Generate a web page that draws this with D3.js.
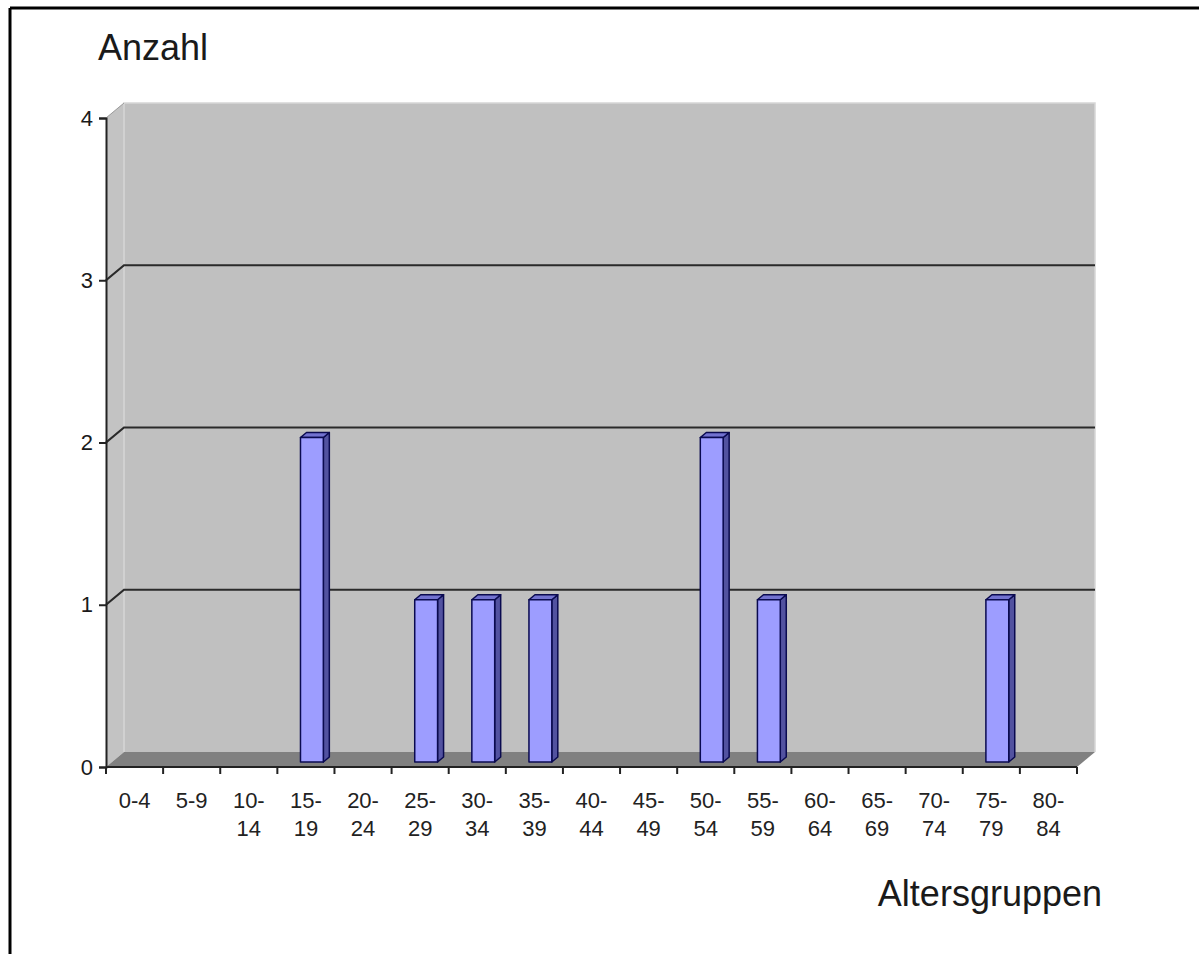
<!DOCTYPE html>
<html>
<head>
<meta charset="utf-8">
<script src="https://cdn.jsdelivr.net/npm/d3@7"></script>
<style>
  html, body { margin: 0; padding: 0; background: #ffffff; }
  svg { display: block; }
  text { font-family: "Liberation Sans", Arial, sans-serif; fill: #1a1a1a; }
</style>
</head>
<body>
<svg id="chart" width="1199" height="954"></svg>
<script>
// Age groups and number of cases per group
const categories = ["0-4", "5-9", "10-14", "15-19", "20-24", "25-29", "30-34", "35-39",
                    "40-44", "45-49", "50-54", "55-59", "60-64", "65-69", "70-74", "75-79", "80-84"];
const counts = [0, 0, 0, 2, 0, 1, 1, 1, 0, 0, 2, 1, 0, 0, 0, 1, 0];
const yTicks = [0, 1, 2, 3, 4];
const yAxisTitle = "Anzahl";
const xAxisTitle = "Altersgruppen";

(function draw() {
  const svg = d3.select("#chart");
  const W = 1199, H = 954;

  // Front plane of the 3D box
  const plotL = 106, plotR = 1077, plotB = 767, plotT = 118;
  // Depth offset of the back wall
  const depthX = 18, depthY = -15;
  // Columns sit in the middle third of the depth
  const z0 = 1 / 3, z1 = 2 / 3;

  const x = d3.scaleBand().domain(categories).range([plotL, plotR])
    .paddingInner(0.6).paddingOuter(0.3);
  const y = d3.scaleLinear().domain([0, 4]).range([plotB, plotT]);

  // Oblique projection: (x, y, depth 0..1) -> screen
  const P = (px, py, z) => [px + z * depthX, py + z * depthY];
  const poly = pts => pts.map(p => p.join(",")).join(" ");

  // Frame
  svg.append("line").attr("x1", 10).attr("y1", 8).attr("x2", W).attr("y2", 8)
    .attr("stroke", "#000").attr("stroke-width", 3);
  svg.append("line").attr("x1", 10).attr("y1", 8).attr("x2", 10).attr("y2", H)
    .attr("stroke", "#000").attr("stroke-width", 3);

  const box = svg.append("g");

  // Back wall
  box.append("polygon")
    .attr("points", poly([P(plotL, plotT, 1), P(plotR, plotT, 1), P(plotR, plotB, 1), P(plotL, plotB, 1)]))
    .attr("fill", "#c0c0c0");
  // Side wall
  box.append("polygon")
    .attr("points", poly([P(plotL, plotT, 0), P(plotL, plotT, 1), P(plotL, plotB, 1), P(plotL, plotB, 0)]))
    .attr("fill", "#c3c3c3");
  // Floor
  box.append("polygon")
    .attr("points", poly([P(plotL, plotB, 0), P(plotL, plotB, 1), P(plotR, plotB, 1), P(plotR, plotB, 0)]))
    .attr("fill", "#808080");

  // Light edges of the walls
  box.append("polyline")
    .attr("points", poly([P(plotL, plotB, 1), P(plotL, plotT, 1), P(plotR, plotT, 1), P(plotR, plotB, 1)]))
    .attr("fill", "none").attr("stroke", "#d6d6d6").attr("stroke-width", 1.5);
  box.append("line")
    .attr("x1", P(plotL, plotT, 0)[0]).attr("y1", P(plotL, plotT, 0)[1])
    .attr("x2", P(plotL, plotT, 1)[0]).attr("y2", P(plotL, plotT, 1)[1])
    .attr("stroke", "#9a9a9a").attr("stroke-width", 1);

  // Gridlines across side wall and back wall
  box.selectAll(".grid").data(yTicks.filter(t => t > 0 && t < 4)).join("polyline")
    .attr("class", "grid")
    .attr("points", t => poly([P(plotL, y(t), 0), P(plotL, y(t), 1), P(plotR, y(t), 1)]))
    .attr("fill", "none").attr("stroke", "#2a2a2a").attr("stroke-width", 2.2);

  // Columns
  const bars = box.selectAll(".bar")
    .data(categories.map((c, i) => ({ c, v: counts[i] })).filter(d => d.v > 0))
    .join("g").attr("class", "bar");
  function styleFace(sel, fill) {
    sel.attr("fill", fill).attr("stroke", "#0a0a50").attr("stroke-width", 1.5)
      .attr("stroke-linejoin", "round");
  }
  bars.append("polygon")
    .attr("points", d => {
      const bx = x(d.c) + x.bandwidth(), yv = y(d.v);
      return poly([P(bx, yv, z0), P(bx, yv, z1), P(bx, plotB, z1), P(bx, plotB, z0)]);
    })
    .call(styleFace, "#5252a0");
  bars.append("polygon")
    .attr("points", d => {
      const bx = x(d.c), bw = x.bandwidth(), yv = y(d.v);
      return poly([P(bx, yv, z0), P(bx, yv, z1), P(bx + bw, yv, z1), P(bx + bw, yv, z0)]);
    })
    .call(styleFace, "#7272d0");
  bars.append("polygon")
    .attr("points", d => {
      const bx = x(d.c), bw = x.bandwidth(), yv = y(d.v);
      return poly([P(bx, yv, z0), P(bx + bw, yv, z0), P(bx + bw, plotB, z0), P(bx, plotB, z0)]);
    })
    .call(styleFace, "#9d9dff");

  // Y axis
  const yAxis = svg.append("g").attr("transform", `translate(${plotL},0)`)
    .call(d3.axisLeft(y).tickValues(yTicks).tickSize(7).tickPadding(6).tickFormat(d3.format("d")));
  yAxis.select(".domain").attr("stroke", "#222").attr("stroke-width", 2);
  yAxis.selectAll(".tick line").attr("stroke", "#222").attr("stroke-width", 2);
  yAxis.selectAll(".tick text").attr("font-size", 22)
    .attr("font-family", "Liberation Sans, Arial, sans-serif").attr("fill", "#222");

  // X axis: baseline and ticks at group boundaries
  const xg = svg.append("g");
  xg.append("line").attr("x1", plotL).attr("x2", plotR).attr("y1", plotB).attr("y2", plotB)
    .attr("stroke", "#222").attr("stroke-width", 2);
  const bounds = categories.map(c => x(c) - x.step() * x.paddingOuter()).concat([plotR]);
  xg.selectAll(".xt").data(bounds).join("line").attr("class", "xt")
    .attr("x1", d => d).attr("x2", d => d).attr("y1", plotB).attr("y2", plotB + 7)
    .attr("stroke", "#222").attr("stroke-width", 2);

  // Category labels, wrapped after the hyphen
  const labels = xg.selectAll(".xl").data(categories).join("text").attr("class", "xl")
    .attr("text-anchor", "middle").attr("font-size", 22).style("fill", "#222")
    .attr("transform", c => `translate(${x(c) + x.bandwidth() / 2},0)`);
  labels.each(function (c) {
    const parts = c.split("-");
    const lines = (parts[0].length + parts[1].length > 2) ? [parts[0] + "-", parts[1]] : [c];
    d3.select(this).selectAll("tspan").data(lines).join("tspan")
      .attr("x", 0).attr("y", (d, i) => 808 + i * 28).text(d => d);
  });

  // Axis titles
  svg.append("text").attr("x", 98).attr("y", 60).attr("font-size", 36).text(yAxisTitle);
  svg.append("text").attr("x", 1102).attr("y", 906).attr("font-size", 36)
    .attr("text-anchor", "end").text(xAxisTitle);
})();
</script>
</body>
</html>
